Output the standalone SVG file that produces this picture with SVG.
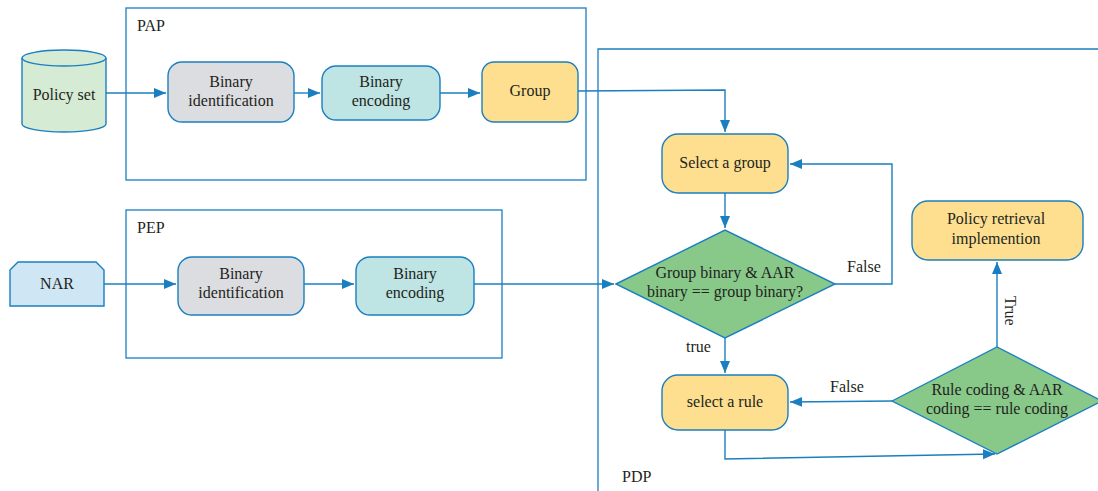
<svg xmlns="http://www.w3.org/2000/svg" width="1098" height="491" viewBox="0 0 1098 491">
<defs>
<style>
.frame{fill:none;stroke:#1a7fc0;stroke-width:1.3}
.box{stroke:#1a7fc0;stroke-width:1.4}
.gray{fill:#dcdde0}
.teal{fill:#bee4e4}
.yellow{fill:#fddf8f}
.green{fill:#88c98a}
.cyl{fill:#d6ebd4}
.nar{fill:#cfe6f4}
.conn{fill:none;stroke:#1a7fc0;stroke-width:1.4}
text{font-family:"Liberation Serif","DejaVu Serif",serif;font-size:16px;fill:#231f20}
.c{text-anchor:middle}
</style>
<marker id="arr" markerUnits="userSpaceOnUse" markerWidth="14" markerHeight="12" refX="12" refY="5" orient="auto">
<path d="M0,0 L12,5 L0,10 z" fill="#1a7fc0"/>
</marker>
</defs>
<rect width="1098" height="491" fill="#ffffff"/>

<g id="pap">
<rect class="frame" x="126" y="8" width="460" height="172"/>
<text x="137" y="31">PAP</text>
</g>
<g id="pep">
<rect class="frame" x="126" y="210" width="376" height="148"/>
<text x="137" y="233">PEP</text>
</g>
<g id="pdp">
<path class="frame" d="M598,491 V49 H1098"/>
<text x="622" y="482">PDP</text>
</g>

<g id="policy-set">
<path class="box cyl" d="M22,58 A42,8 0 0 1 106,58 V124 A42,8 0 0 1 22,124 Z"/>
<path class="box" fill="none" d="M22,58 A42,8 0 0 0 106,58"/>
<text class="c" x="64" y="100">Policy set</text>
</g>

<g id="pap-binary-identification">
<rect class="box gray" x="168" y="62" width="126" height="60" rx="14"/>
<text class="c" x="231" y="87">Binary</text>
<text class="c" x="231" y="106">identification</text>
</g>
<g id="pap-binary-encoding">
<rect class="box teal" x="322" y="66" width="118" height="54" rx="14"/>
<text class="c" x="381" y="87">Binary</text>
<text class="c" x="381" y="106">encoding</text>
</g>
<g id="group">
<rect class="box yellow" x="482" y="62" width="96" height="60" rx="12"/>
<text class="c" x="530" y="96">Group</text>
</g>

<g id="nar">
<polygon class="box nar" points="10,270 18,262 96,262 104,270 104,306 10,306"/>
<text class="c" x="57" y="289">NAR</text>
</g>
<g id="pep-binary-identification">
<rect class="box gray" x="178" y="257" width="126" height="58" rx="14"/>
<text class="c" x="241" y="279">Binary</text>
<text class="c" x="241" y="298">identification</text>
</g>
<g id="pep-binary-encoding">
<rect class="box teal" x="356" y="257" width="118" height="58" rx="14"/>
<text class="c" x="415" y="279">Binary</text>
<text class="c" x="415" y="298">encoding</text>
</g>

<g id="select-group">
<rect class="box yellow" x="662" y="134" width="126" height="59" rx="16"/>
<text class="c" x="725" y="168">Select a group</text>
</g>
<g id="group-decision">
<polygon class="box green" points="616,284 725,230 835,284 725,338"/>
<text class="c" x="725" y="278">Group binary &amp; AAR</text>
<text class="c" x="725" y="297">binary == group binary?</text>
</g>
<g id="policy-retrieval">
<rect class="box yellow" x="912" y="201" width="171" height="59" rx="16"/>
<text class="c" x="996" y="224">Policy retrieval</text>
<text class="c" x="996" y="244">implemention</text>
</g>
<g id="select-rule">
<rect class="box yellow" x="662" y="375" width="126" height="55" rx="16"/>
<text class="c" x="725" y="407">select a rule</text>
</g>
<g id="rule-decision">
<polygon class="box green" points="892,401 997,347 1102,401 997,454"/>
<text class="c" x="997" y="395">Rule coding &amp; AAR</text>
<text class="c" x="997" y="414">coding == rule coding</text>
</g>

<g id="connectors">
<path class="conn" d="M106,93 H166" marker-end="url(#arr)"/>
<path class="conn" d="M294,93 H320" marker-end="url(#arr)"/>
<path class="conn" d="M440,93 H480" marker-end="url(#arr)"/>
<path class="conn" d="M578,91 L725,90 V132" marker-end="url(#arr)"/>
<path class="conn" d="M104,284 H176" marker-end="url(#arr)"/>
<path class="conn" d="M304,284 H354" marker-end="url(#arr)"/>
<path class="conn" d="M474,284 H614" marker-end="url(#arr)"/>
<path class="conn" d="M725,193 V228" marker-end="url(#arr)"/>
<path class="conn" d="M835,284 H892 V164 H790" marker-end="url(#arr)"/>
<path class="conn" d="M725,338 V373" marker-end="url(#arr)"/>
<path class="conn" d="M892,401 L790,402" marker-end="url(#arr)"/>
<path class="conn" d="M725,430 V459 L995,454" marker-end="url(#arr)"/>
<path class="conn" d="M997,347 V262" marker-end="url(#arr)"/>
<text x="847" y="272">False</text>
<text x="686" y="352">true</text>
<text x="830" y="392">False</text>
<text transform="translate(1005,296) rotate(90)">True</text>
</g>
</svg>
